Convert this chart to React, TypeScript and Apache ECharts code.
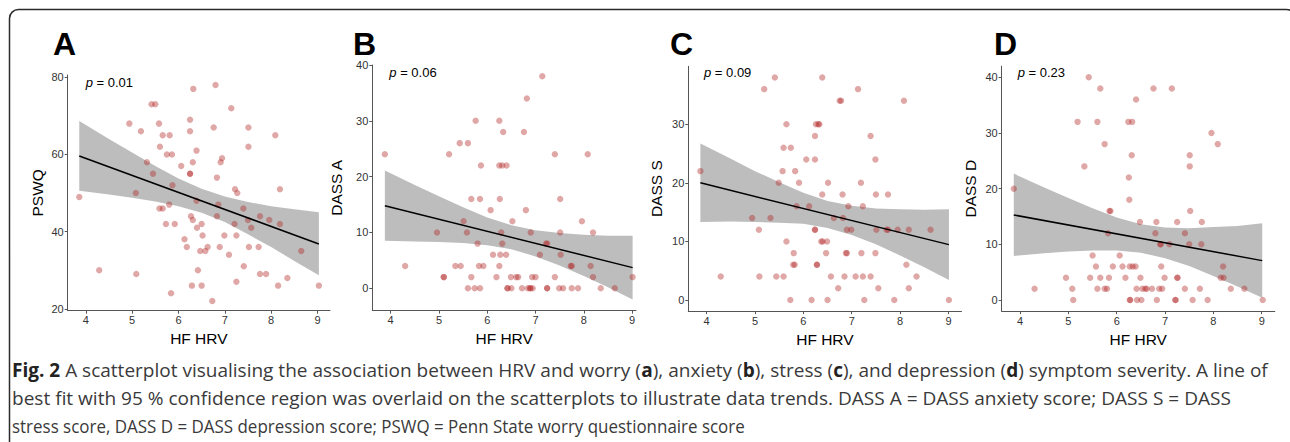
import React, { useEffect, useRef } from "react";
import * as echarts from "echarts";

// ---------- DATA ----------
const xTicks = [4, 5, 6, 7, 8, 9];
const worryTicks = [20, 40, 60, 80];
const anxietyTicks = [0, 10, 20, 30, 40];
const stressTicks = [0, 10, 20, 30];
const depressionTicks = [0, 10, 20, 30, 40];

const panelLetters = ["A", "B", "C", "D"];
const yNames = ["PSWQ", "DASS A", "DASS S", "DASS D"];
const pValues = ["0.01", "0.06", "0.09", "0.23"];
const xName = "HF HRV";

// Panel A: HF HRV vs PSWQ
const worryPoints: [number, number][] = [
  [3.86, 49], [4.29, 30], [4.94, 68], [5.08, 50], [5.09, 29], [5.19, 66], [5.32, 58], [5.42, 73],
  [5.5, 73], [5.45, 55], [5.58, 68], [5.66, 65], [5.6, 62], [5.75, 60], [5.86, 60], [5.81, 65],
  [5.87, 52], [5.59, 46], [5.66, 46], [5.8, 47], [5.73, 42], [5.92, 42], [5.84, 24], [6.06, 57],
  [6.13, 38], [6.18, 36], [6.25, 69], [6.25, 66], [6.25, 55], [6.25, 55], [6.27, 44], [6.31, 43],
  [6.31, 58], [6.32, 77], [6.39, 61], [6.39, 48], [6.4, 41], [6.5, 42], [6.52, 39], [6.47, 35],
  [6.58, 35], [6.63, 36], [6.42, 30], [6.29, 26], [6.5, 26], [6.73, 22], [6.76, 67], [6.8, 78],
  [6.83, 54], [6.86, 47], [6.83, 44], [6.91, 58], [6.94, 59], [6.89, 36], [6.99, 39], [7.09, 34],
  [7.14, 72], [7.22, 51], [7.27, 50], [7.21, 42], [7.25, 39], [7.25, 27], [7.41, 31], [7.4, 46],
  [7.5, 43], [7.57, 41], [7.51, 67], [7.51, 62], [7.52, 36], [7.73, 36], [7.76, 44], [7.76, 29],
  [7.89, 29], [7.96, 43], [8.09, 65], [8.19, 51], [8.19, 42], [8.15, 26], [8.35, 28], [8.65, 35],
  [9.03, 26],
];
const worryFit: [number, number][] = [[3.86, 59.6], [9.03, 36.8]];
const worryBandX = [3.86, 4.5, 5, 5.5, 6, 6.5, 7, 7.5, 8, 8.5, 9.03];
const worryBandUpper = [68.7, 64.0, 60.5, 57.0, 53.8, 51.1, 49.1, 47.7, 46.6, 45.8, 45.0];
const worryBandLower = [50.6, 49.6, 48.8, 47.8, 46.6, 44.9, 42.5, 39.3, 36.0, 32.4, 28.7];

// Panel B: HF HRV vs DASS A
const anxietyPoints: [number, number][] = [
  [3.88, 24], [4.3, 4], [4.96, 10], [5.1, 2], [5.1, 2], [5.21, 24], [5.34, 4], [5.45, 4],
  [5.43, 26], [5.51, 12], [5.58, 10], [5.6, 26], [5.6, 0], [5.67, 16], [5.67, 2], [5.74, 0],
  [5.76, 30], [5.8, 8], [5.83, 4], [5.85, 16], [5.85, 0], [5.87, 22], [5.92, 4], [6.07, 14],
  [6.12, 6], [6.19, 2], [6.25, 30], [6.25, 22], [6.26, 16], [6.25, 4], [6.27, 6], [6.29, 10],
  [6.31, 8], [6.31, 22], [6.33, 28], [6.4, 22], [6.39, 6], [6.42, 0], [6.42, 0], [6.49, 2],
  [6.5, 0], [6.52, 12], [6.6, 2], [6.64, 2], [6.72, 0], [6.76, 28], [6.8, 14], [6.82, 34],
  [6.84, 0], [6.89, 0], [6.89, 0], [6.9, 10], [6.93, 2], [6.94, 0], [7.0, 2], [7.09, 6],
  [7.14, 38], [7.22, 8], [7.24, 8], [7.24, 0], [7.24, 0], [7.4, 2], [7.4, 24], [7.49, 0],
  [7.51, 16], [7.51, 10], [7.52, 6], [7.57, 0], [7.73, 4], [7.75, 4], [7.75, 0], [7.88, 0],
  [7.96, 12], [8.08, 24], [8.14, 4], [8.19, 10], [8.19, 2], [8.35, 0], [8.64, 0], [9.01, 2],
];
const anxietyFit: [number, number][] = [[3.88, 14.8], [9.01, 3.7]];
const anxietyBandX = [3.88, 4.5, 5, 5.5, 6, 6.5, 7, 7.5, 8, 8.5, 9.01];
const anxietyBandUpper = [21.1, 18.5, 16.5, 14.5, 12.7, 11.3, 10.4, 9.9, 9.6, 9.4, 9.4];
const anxietyBandLower = [8.5, 8.4, 8.3, 8.1, 7.7, 7.0, 5.7, 4.1, 2.2, 0.2, -2.0];

// Panel C: HF HRV vs DASS S
const stressPoints: [number, number][] = [
  [3.87, 22], [4.29, 4], [4.94, 14], [5.08, 12], [5.09, 4], [5.19, 36], [5.32, 14], [5.41, 38],
  [5.44, 4], [5.49, 20], [5.57, 22], [5.59, 26], [5.59, 4], [5.65, 30], [5.65, 10], [5.74, 26],
  [5.73, 0], [5.8, 8], [5.79, 6], [5.82, 6], [5.83, 22], [5.86, 16], [5.91, 20], [6.06, 24],
  [6.12, 16], [6.17, 0], [6.24, 28], [6.24, 24], [6.24, 12], [6.24, 12], [6.26, 30], [6.28, 6],
  [6.28, 6], [6.31, 30], [6.33, 30], [6.39, 38], [6.39, 18], [6.37, 10], [6.4, 10], [6.49, 10],
  [6.47, 8], [6.5, 0], [6.51, 20], [6.57, 4], [6.63, 14], [6.72, 2], [6.75, 34], [6.78, 34],
  [6.81, 18], [6.82, 14], [6.85, 4], [6.88, 8], [6.9, 8], [6.9, 12], [6.93, 16], [6.99, 12],
  [7.08, 4], [7.13, 36], [7.19, 20], [7.2, 8], [7.23, 16], [7.23, 4], [7.26, 0], [7.39, 28],
  [7.39, 4], [7.49, 24], [7.5, 18], [7.49, 8], [7.51, 12], [7.55, 2], [7.72, 12], [7.75, 18],
  [7.75, 12], [7.88, 0], [7.95, 12], [8.08, 34], [8.13, 6], [8.18, 12], [8.18, 2], [8.34, 4],
  [8.63, 12], [9.01, 0],
];
const stressFit: [number, number][] = [[3.87, 20.0], [9.01, 9.45]];
const stressBandX = [3.87, 4.5, 5, 5.5, 6, 6.5, 7, 7.5, 8, 8.5, 9.01];
const stressBandUpper = [26.7, 24.1, 22.0, 20.1, 18.3, 16.9, 16.1, 15.6, 15.5, 15.4, 15.5];
const stressBandLower = [13.3, 13.4, 13.3, 13.2, 13.0, 12.3, 11.1, 9.5, 7.6, 5.6, 3.4];

// Panel D: HF HRV vs DASS D
const depressionPoints: [number, number][] = [
  [3.87, 20], [4.3, 2], [4.95, 4], [5.08, 2], [5.1, 0], [5.19, 32], [5.33, 24], [5.42, 40],
  [5.45, 4], [5.5, 8], [5.57, 6], [5.6, 2], [5.6, 32], [5.66, 38], [5.66, 4], [5.75, 2],
  [5.75, 28], [5.8, 2], [5.82, 12], [5.84, 4], [5.85, 16], [5.87, 16], [5.92, 6], [6.06, 8],
  [6.12, 6], [6.18, 4], [6.24, 32], [6.25, 22], [6.26, 18], [6.27, 6], [6.27, 0], [6.28, 0],
  [6.32, 32], [6.31, 26], [6.33, 6], [6.39, 6], [6.4, 36], [6.41, 2], [6.42, 0], [6.48, 14],
  [6.49, 4], [6.51, 0], [6.53, 2], [6.59, 2], [6.62, 2], [6.73, 2], [6.76, 38], [6.8, 12],
  [6.82, 14], [6.83, 0], [6.88, 2], [6.9, 10], [6.91, 10], [6.92, 6], [6.94, 2], [6.99, 4],
  [7.09, 10], [7.14, 38], [7.21, 0], [7.22, 0], [7.25, 4], [7.26, 4], [7.25, 14], [7.41, 2],
  [7.41, 12], [7.5, 10], [7.51, 26], [7.51, 24], [7.52, 16], [7.57, 0], [7.72, 2], [7.75, 10],
  [7.76, 14], [7.88, 0], [7.96, 30], [8.09, 28], [8.15, 4], [8.2, 6], [8.21, 4], [8.36, 2],
  [8.64, 2], [9.02, 0],
];
const depressionFit: [number, number][] = [[3.87, 15.27], [9.01, 7.07]];
const depressionBandX = [3.87, 4.5, 5, 5.5, 6, 6.5, 7, 7.5, 8, 8.5, 9.01];
const depressionBandUpper = [22.7, 20.2, 18.3, 16.5, 14.8, 13.6, 13.0, 12.9, 13.1, 13.3, 13.8];
const depressionBandLower = [7.9, 8.4, 8.7, 8.9, 8.9, 8.5, 7.5, 6.1, 4.3, 2.4, 0.4];

const captionLines: [string, boolean][][] = [
  [
    ["Fig. 2", true],
    [" A scatterplot visualising the association between HRV and worry (", false],
    ["a", true],
    ["), anxiety (", false],
    ["b", true],
    ["), stress (", false],
    ["c", true],
    ["), and depression (", false],
    ["d", true],
    [") symptom severity. A line of", false],
  ],
  [["best fit with 95 % confidence region was overlaid on the scatterplots to illustrate data trends. DASS A = DASS anxiety score; DASS S = DASS", false]],
  [["stress score, DASS D = DASS depression score; PSWQ = Penn State worry questionnaire score", false]],
];

// ---------- LAYOUT ----------
const FONT = '"Liberation Sans", Arial, Helvetica, sans-serif';
const CAP_FONT = '"Open Sans", "Noto Sans", sans-serif';

const panelData = [
  { pts: worryPoints, fit: worryFit, bx: worryBandX, up: worryBandUpper, lo: worryBandLower, yTicks: worryTicks },
  { pts: anxietyPoints, fit: anxietyFit, bx: anxietyBandX, up: anxietyBandUpper, lo: anxietyBandLower, yTicks: anxietyTicks },
  { pts: stressPoints, fit: stressFit, bx: stressBandX, up: stressBandUpper, lo: stressBandLower, yTicks: stressTicks },
  { pts: depressionPoints, fit: depressionFit, bx: depressionBandX, up: depressionBandUpper, lo: depressionBandLower, yTicks: depressionTicks },
];

const layouts = [
  { left: 67.7, top: 75, width: 262.3, height: 235.7, xMin: 3.61, xMax: 9.27, yMin: 19.5, yMax: 80.6, yGap: 22, letterX: 53, pX: 85.7, pY: 82 },
  { left: 372.3, top: 65, width: 263.7, height: 245.6, xMin: 3.62, xMax: 9.08, yMin: -4, yMax: 40, yGap: 27.8, letterX: 353, pX: 389.3, pY: 72 },
  { left: 688.3, top: 66.3, width: 273.2, height: 244.8, xMin: 3.62, xMax: 9.27, yMin: -1.9, yMax: 39.9, yGap: 23.5, letterX: 670, pX: 704, pY: 72 },
  { left: 1001.7, top: 66.2, width: 273.1, height: 244.9, xMin: 3.62, xMax: 9.27, yMin: -2, yMax: 42, yGap: 23.2, letterX: 994, pX: 1017.7, pY: 72 },
];

const captionTargets = [1256, 1220, 733];
const captionY = [370, 398, 426];

function measure(text: string, font: string): number {
  const c = document.createElement("canvas").getContext("2d");
  if (!c) return text.length * 9;
  c.font = font;
  return c.measureText(text).width;
}

export default function App() {
  const ref = useRef<HTMLDivElement>(null);

  useEffect(() => {
    if (!ref.current) return;
    const chart = echarts.init(ref.current, undefined, { renderer: "svg" });

    const axisColor = "#555";
    const labelColor = "#333";

    const series: any[] = [];
    panelData.forEach((p, i) => {
      series.push({
        type: "custom",
        xAxisIndex: i,
        yAxisIndex: i,
        silent: true,
        z: 1,
        data: [[p.bx[0], p.lo[0]]],
        renderItem: (_params: any, api: any) => {
          const pts: number[][] = [];
          for (let k = 0; k < p.bx.length; k++) pts.push(api.coord([p.bx[k], p.up[k]]));
          for (let k = p.bx.length - 1; k >= 0; k--) pts.push(api.coord([p.bx[k], p.lo[k]]));
          return { type: "polygon", shape: { points: pts }, style: { fill: "#bdbdbd", stroke: "none" } };
        },
      });
      series.push({
        type: "scatter",
        xAxisIndex: i,
        yAxisIndex: i,
        data: p.pts,
        symbolSize: 6.4,
        z: 3,
        itemStyle: { color: "rgba(178,34,34,0.5)", borderWidth: 0 },
        silent: true,
      });
      series.push({
        type: "line",
        xAxisIndex: i,
        yAxisIndex: i,
        data: p.fit,
        symbol: "none",
        z: 4,
        lineStyle: { color: "#000", width: 1.5 },
        silent: true,
      });
    });

    const graphic: any[] = [
      {
        type: "rect",
        shape: { x: 9.5, y: 9.5, width: 1286, height: 470, r: 9 },
        style: { fill: "none", stroke: "#2b2b2b", lineWidth: 1.5 },
        silent: true,
      },
    ];
    layouts.forEach((l, i) => {
      graphic.push({
        type: "text",
        x: l.letterX,
        y: 43.5,
        style: { text: panelLetters[i], fontSize: 32, fontWeight: "bold", fontFamily: FONT, fill: "#000", align: "left", verticalAlign: "middle" },
      });
      graphic.push({
        type: "text",
        x: l.pX,
        y: l.pY,
        style: {
          text: "{i|p} = " + pValues[i],
          fontSize: 13,
          fontFamily: FONT,
          fill: "#000",
          align: "left",
          verticalAlign: "middle",
          rich: { i: { fontStyle: "italic", fontSize: 13, fontFamily: FONT, fill: "#000" } },
        },
      });
    });

    const capSize = 19;
    const normalFont = `${capSize}px ${CAP_FONT}`;
    const boldFont = `bold ${capSize}px ${CAP_FONT}`;
    captionLines.forEach((segs, li) => {
      let w = 0;
      let txt = "";
      segs.forEach(([t, b]) => {
        w += measure(t, b ? boldFont : normalFont);
        txt += b ? `{b|${t}}` : `{n|${t}}`;
      });
      const sx = captionTargets[li] / w;
      graphic.push({
        type: "text",
        x: 12,
        y: captionY[li],
        scaleX: sx,
        style: {
          text: txt,
          fontSize: capSize,
          fontFamily: CAP_FONT,
          fill: "#3a3a3a",
          align: "left",
          verticalAlign: "middle",
          rich: {
            b: { fontSize: capSize, fontFamily: CAP_FONT, fontWeight: "bold", fill: "#222" },
            n: { fontSize: capSize, fontFamily: CAP_FONT, fill: "#3a3a3a" },
          },
        },
      });
    });

    chart.setOption({
      animation: false,
      backgroundColor: "#fff",
      textStyle: { fontFamily: FONT },
      grid: layouts.map((l) => ({
        left: l.left,
        top: l.top,
        width: l.width,
        height: l.height,
        containLabel: false,
        outerBoundsMode: "none",
      })),
      xAxis: layouts.map((l, i) => ({
        type: "value",
        gridIndex: i,
        min: l.xMin,
        max: l.xMax,
        name: xName,
        nameLocation: "middle",
        nameGap: 20,
        nameTextStyle: { fontSize: 15.5, color: "#000", fontFamily: FONT },
        axisLine: { onZero: false, lineStyle: { color: axisColor, width: 1 } },
        axisTick: { length: 3, lineStyle: { color: axisColor }, customValues: xTicks },
        axisLabel: { customValues: xTicks, margin: 4, fontSize: 11, color: labelColor, fontFamily: FONT },
        splitLine: { show: false },
      })),
      yAxis: layouts.map((l, i) => ({
        type: "value",
        gridIndex: i,
        min: l.yMin,
        max: l.yMax,
        name: yNames[i],
        nameLocation: "middle",
        nameRotate: 90,
        nameGap: l.yGap,
        nameTextStyle: { fontSize: 15.5, color: "#000", fontFamily: FONT },
        axisLine: { onZero: false, lineStyle: { color: axisColor, width: 1 } },
        axisTick: { length: 3, lineStyle: { color: axisColor }, customValues: panelData[i].yTicks },
        axisLabel: { customValues: panelData[i].yTicks, margin: 4, fontSize: 11, color: labelColor, fontFamily: FONT },
        splitLine: { show: false },
      })),
      series,
      graphic,
    });

    return () => chart.dispose();
  }, []);

  return (
    <div
      ref={ref}
      style={{ position: "absolute", left: 0, top: 0, width: 1290, height: 442, background: "#fff" }}
    />
  );
}
